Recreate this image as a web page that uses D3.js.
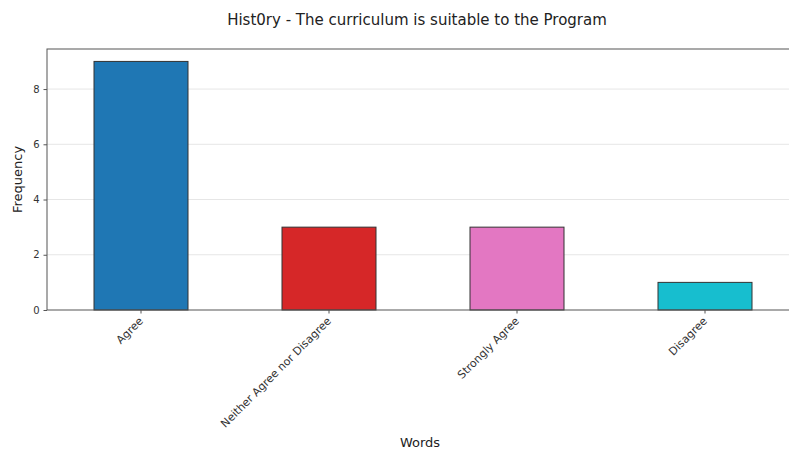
<!DOCTYPE html>
<html>
<head>
<meta charset="utf-8">
<script src="https://cdn.jsdelivr.net/npm/d3@7"></script>
<style>
  body { margin: 0; background: #fff; overflow: hidden; }
  svg { font-family: "DejaVu Sans", sans-serif; }
</style>
</head>
<body>
<div id="chart"></div>
<script>
const categories = ['Agree', 'Neither Agree nor Disagree', 'Strongly Agree', 'Disagree'];
const counts = [9, 3, 3, 1];
const colors = ['#1f77b4', '#d62728', '#e377c2', '#17becf'];
const yTicks = [0, 2, 4, 6, 8];

const width = 789, height = 455;
const margin = {top: 49, left: 47, bottom: 145};
const plotW = 752, plotH = height - margin.top - margin.bottom;

const svg = d3.select('#chart').append('svg')
    .attr('width', width)
    .attr('height', height);

svg.append('text')
    .attr('x', 417)
    .attr('y', 25)
    .attr('text-anchor', 'middle')
    .attr('font-size', 15)
    .attr('fill', '#222')
    .text('Hist0ry - The curriculum is suitable to the Program');

const chart = svg.append('g')
    .attr('transform', `translate(${margin.left}, ${margin.top})`);

const x = d3.scaleBand()
    .domain(categories)
    .range([0, plotW])
    .paddingInner(0.5)
    .paddingOuter(0.25);

const y = d3.scaleLinear()
    .domain([0, 9 * 1.05])
    .range([plotH, 0]);

// grid
chart.append('g')
    .selectAll('line')
    .data(yTicks.filter(d => d > 0))
    .join('line')
    .attr('x1', 0)
    .attr('x2', plotW)
    .attr('y1', d => y(d))
    .attr('y2', d => y(d))
    .attr('stroke', '#e6e6e6')
    .attr('stroke-width', 1);

chart.append('g')
    .selectAll('rect')
    .data(counts)
    .join('rect')
    .attr('x', (d, i) => x(categories[i]))
    .attr('y', d => y(d))
    .attr('width', x.bandwidth())
    .attr('height', d => plotH - y(d))
    .attr('fill', (d, i) => colors[i])
    .attr('stroke', '#333')
    .attr('stroke-width', 1);

// frame
chart.append('rect')
    .attr('width', plotW)
    .attr('height', plotH)
    .attr('fill', 'none')
    .attr('stroke', '#555')
    .attr('stroke-width', 1);

const yAxis = chart.append('g')
    .call(d3.axisLeft(y).tickValues(yTicks).tickSize(3.5).tickPadding(4));
yAxis.select('.domain').remove();
yAxis.selectAll('text').attr('font-size', 10).attr('fill', '#333').attr('font-family', '"DejaVu Sans", sans-serif');
yAxis.selectAll('line').attr('stroke', '#555');

const xAxis = chart.append('g')
    .attr('transform', `translate(0, ${plotH})`)
    .call(d3.axisBottom(x).tickSize(3.5).tickPadding(3));
xAxis.select('.domain').remove();
xAxis.selectAll('line').attr('stroke', '#555');
xAxis.selectAll('text')
    .attr('font-size', 11)
    .attr('fill', '#333')
    .attr('font-family', '"DejaVu Sans", sans-serif')
    .attr('text-anchor', 'end')
    .attr('dy', '0.35em')
    .attr('transform', 'translate(0, 9) rotate(-45)')
    .attr('y', 0)
    .attr('x', 0);

svg.append('text')
    .attr('x', 420)
    .attr('y', 447)
    .attr('text-anchor', 'middle')
    .attr('font-size', 13)
    .attr('fill', '#222')
    .text('Words');

svg.append('text')
    .attr('transform', `translate(22, ${margin.top + plotH / 2}) rotate(-90)`)
    .attr('text-anchor', 'middle')
    .attr('font-size', 13)
    .attr('fill', '#222')
    .text('Frequency');
</script>
</body>
</html>
